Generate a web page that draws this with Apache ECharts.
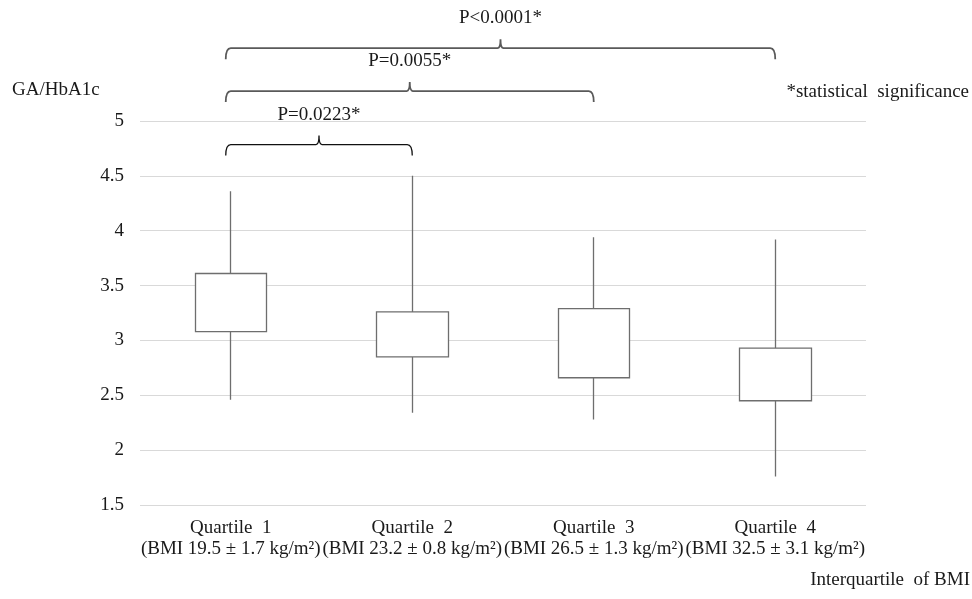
<!DOCTYPE html>
<html lang="en">
<head>
    <meta charset="UTF-8">
    <title>GA/HbA1c by BMI quartile</title>
    <script src="https://cdn.jsdelivr.net/npm/echarts@6/dist/echarts.min.js"></script>
    <style>
        html, body { margin: 0; padding: 0; background: #fff; }
        #main { width: 972px; height: 599px; }
    </style>
</head>
<body>
<div id="main"></div>
<script type="text/javascript">
    // categories (two-line axis labels)
    var quartiles = ['Quartile  1', 'Quartile  2', 'Quartile  3', 'Quartile  4'];
    var bmiText = ['(BMI 19.5 ± 1.7 kg/m²)', '(BMI 23.2 ± 0.8 kg/m²)', '(BMI 26.5 ± 1.3 kg/m²)', '(BMI 32.5 ± 3.1 kg/m²)'];
    // box values
    var whiskerLow = [2.46, 2.34, 2.28, 1.76];
    var boxLow = [3.08, 2.85, 2.66, 2.45];
    var boxHigh = [3.61, 3.26, 3.29, 2.93];
    var whiskerHigh = [4.36, 4.50, 3.94, 3.92];
    // significance brackets: from category, to category, height (axis units), text
    var bracketFrom = [0, 0, 0];
    var bracketTo = [1, 2, 3];
    var bracketLevel = [4.785, 5.273, 5.664];
    var bracketLabel = ['P=0.0223*', 'P=0.0055*', 'P<0.0001*'];

    var font = '"Liberation Serif", "Times New Roman", serif';

    var boxData = [];
    for (var i = 0; i < quartiles.length; i++) {
        // candlestick: [open, close, lowest, highest]
        boxData.push([boxLow[i], boxHigh[i], whiskerLow[i], whiskerHigh[i]]);
    }
    var bracketData = [];
    for (var j = 0; j < bracketFrom.length; j++) {
        bracketData.push([bracketFrom[j], bracketTo[j], bracketLevel[j]]);
    }

    var myChart = echarts.init(document.getElementById('main'));
    var option = {
        backgroundColor: '#fff',
        animation: false,
        grid: {
            left: 140,
            right: 106,
            top: 121,
            bottom: 94
        },
        xAxis: {
            type: 'category',
            data: quartiles,
            axisLine: { show: false },
            axisTick: { show: false },
            axisLabel: {
                interval: 0,
                margin: 13,
                color: '#1a1a1a',
                fontFamily: font,
                fontSize: 19,
                lineHeight: 21,
                formatter: function (val, idx) {
                    return val + '\n' + bmiText[idx];
                }
            }
        },
        yAxis: {
            type: 'value',
            min: 1.5,
            max: 5,
            interval: 0.5,
            axisLine: { show: false },
            axisTick: { show: false },
            splitLine: { lineStyle: { color: '#d9d9d9', width: 1 } },
            axisLabel: {
                margin: 16,
                color: '#1a1a1a',
                fontFamily: font,
                fontSize: 19
            }
        },
        graphic: [{
            type: 'text',
            x: 12, y: 90,
            style: { text: 'GA/HbA1c', fill: '#1a1a1a', font: '19px ' + font, verticalAlign: 'middle' }
        }, {
            type: 'text',
            x: 969, y: 92,
            style: { text: '*statistical  significance', fill: '#1a1a1a', font: '19px ' + font, align: 'right', verticalAlign: 'middle' }
        }, {
            type: 'text',
            x: 970, y: 580,
            style: { text: 'Interquartile  of BMI', fill: '#1a1a1a', font: '19px ' + font, align: 'right', verticalAlign: 'middle' }
        }],
        series: [{
            type: 'candlestick',
            data: boxData,
            barWidth: 72,
            itemStyle: {
                color: '#fff',
                color0: '#fff',
                borderColor: '#6e6e6e',
                borderColor0: '#6e6e6e',
                borderWidth: 1.3
            }
        }, {
            type: 'custom',
            clip: false,
            silent: true,
            data: bracketData,
            encode: { x: [0, 1], y: 2 },
            renderItem: function (params, api) {
                var p0 = api.coord([api.value(0), api.value(2)]);
                var p1 = api.coord([api.value(1), api.value(2)]);
                var x0 = p0[0] - 5, x1 = p1[0], y = p0[1];
                var xm = (x0 + x1) / 2;
                var col = params.dataIndex === 0 ? '#111' : '#595959';
                var d = 'M' + x0 + ',' + (y + 11) +
                    ' Q' + x0 + ',' + y + ' ' + (x0 + 5) + ',' + y +
                    ' L' + (xm - 3) + ',' + y +
                    ' Q' + xm + ',' + y + ' ' + xm + ',' + (y - 9) +
                    ' Q' + xm + ',' + y + ' ' + (xm + 3) + ',' + y +
                    ' L' + (x1 - 5) + ',' + y +
                    ' Q' + x1 + ',' + y + ' ' + x1 + ',' + (y + 11);
                return {
                    type: 'group',
                    children: [{
                        type: 'path',
                        shape: { pathData: d },
                        style: { stroke: col, lineWidth: params.dataIndex === 0 ? 1.3 : 1.8, fill: null }
                    }, {
                        type: 'text',
                        style: {
                            text: bracketLabel[params.dataIndex],
                            x: xm,
                            y: y - 30,
                            align: 'center',
                            verticalAlign: 'middle',
                            fill: '#1a1a1a',
                            font: '19px ' + font
                        }
                    }]
                };
            }
        }]
    };
    myChart.setOption(option);
</script>
</body>
</html>
